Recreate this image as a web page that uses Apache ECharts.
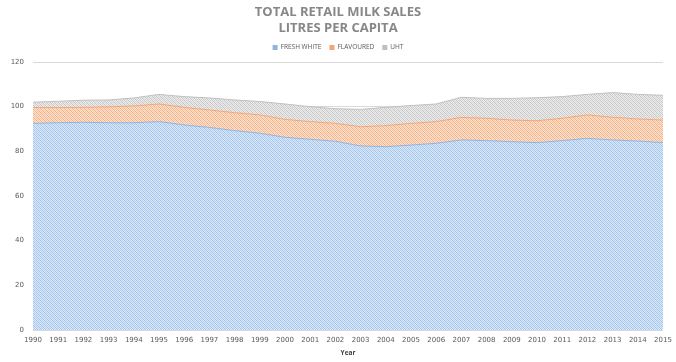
<!DOCTYPE html>
<html><head><meta charset="utf-8">
<script src="https://cdn.jsdelivr.net/npm/echarts@6/dist/echarts.min.js"></script>
<style>html,body{margin:0;padding:0;background:#fff}#c{width:676px;height:362px}</style>
</head><body><div id="c"></div>
<script>
var years = ['1990','1991','1992','1993','1994','1995','1996','1997','1998','1999','2000','2001','2002','2003','2004','2005','2006','2007','2008','2009','2010','2011','2012','2013','2014','2015'];
var freshWhite = [92.5,92.8,93.0,92.8,92.8,93.3,91.8,90.7,89.3,88.1,86.3,85.4,84.5,82.4,82.1,82.8,83.6,85.1,84.8,84.3,83.9,84.8,85.8,85.1,84.6,83.9];
var flavoured = [7.1,6.8,6.7,7.1,7.5,7.9,7.9,7.8,8.0,8.2,8.0,7.9,8.0,8.6,9.4,9.7,9.7,10.1,10.0,9.7,9.8,10.0,10.5,10.1,9.9,10.1];
var uht = [2.4,2.8,3.2,3.1,3.6,4.3,4.8,5.4,5.7,6.0,6.9,6.7,6.6,7.8,8.2,8.0,7.9,9.0,8.9,9.7,10.3,9.7,9.2,11.1,11.0,11.1];
var yTicks = [0,20,40,60,80,100,120];

function pattern(base, mid, dark) {
  var c = document.createElement('canvas');
  c.width = 4; c.height = 4;
  var g = c.getContext('2d');
  for (var y = 0; y < 4; y++) {
    for (var x = 0; x < 4; x++) {
      g.fillStyle = ((x + y) % 2 === 0) ? mid : base;
      if (x === y) g.fillStyle = dark;
      g.fillRect(x, y, 1, 1);
    }
  }
  return {image: c, repeat: 'repeat'};
}

var chart = echarts.init(document.getElementById('c'));
function mk(name, data, fill, edge) {
  return {
    name: name, type: 'line', stack: 'total', data: data,
    symbol: 'none', smooth: false,
    lineStyle: {width: 1, color: edge},
    itemStyle: {color: edge},
    areaStyle: {color: fill, opacity: 1}
  };
}
chart.setOption({
  animation: false,
  title: {
    text: 'TOTAL RETAIL MILK SALES\nLITRES PER CAPITA',
    left: 'center', top: -1,
    textStyle: {fontFamily: 'Open Sans', fontWeight: 'bold', fontSize: 13, color: '#878787', lineHeight: 16}
  },
  legend: {
    top: 39, left: 'center', itemWidth: 5, itemHeight: 5, itemGap: 8,
    icon: 'rect',
    textStyle: {fontFamily: 'Open Sans', fontSize: 6.5, color: '#595959', padding: [0,0,0,-2]},
    data: ['FRESH WHITE','FLAVOURED','UHT']
  },
  grid: {left: 33, right: 13, top: 62, bottom: 32, containLabel: false, outerBoundsMode: 'none'},
  xAxis: {
    type: 'category', data: years, boundaryGap: false,
    name: 'Year', nameLocation: 'middle', nameGap: 20,
    nameTextStyle: {fontFamily: 'Open Sans', fontWeight: 'bold', fontSize: 6.5, color: '#404040'},
    axisLine: {show: false}, axisTick: {show: false},
    axisLabel: {fontFamily: 'DejaVu Sans', fontSize: 7, color: '#595959', margin: 7, interval: 0}
  },
  yAxis: {
    type: 'value', min: 0, max: 120, interval: 20,
    name: 'Litres per capita', nameLocation: 'middle', nameGap: 22,
    nameTextStyle: {fontFamily: 'Open Sans', fontSize: 6.5, color: '#404040'},
    axisLabel: {fontFamily: 'DejaVu Sans', fontSize: 7, color: '#595959', margin: 9},
    splitLine: {lineStyle: {color: '#d9d9d9', width: 1}}
  },
  series: [
    mk('FRESH WHITE', freshWhite, pattern('#dbe8f7', '#b5d0f0', '#9fc2ec'), '#8db4e2'),
    mk('FLAVOURED', flavoured, pattern('#fde3d2', '#f9c4a2', '#f5ad80'), '#f4a574'),
    mk('UHT', uht, pattern('#ececec', '#d6d6d6', '#c4c4c4'), '#c0c0c0')
  ]
});
</script></body></html>
